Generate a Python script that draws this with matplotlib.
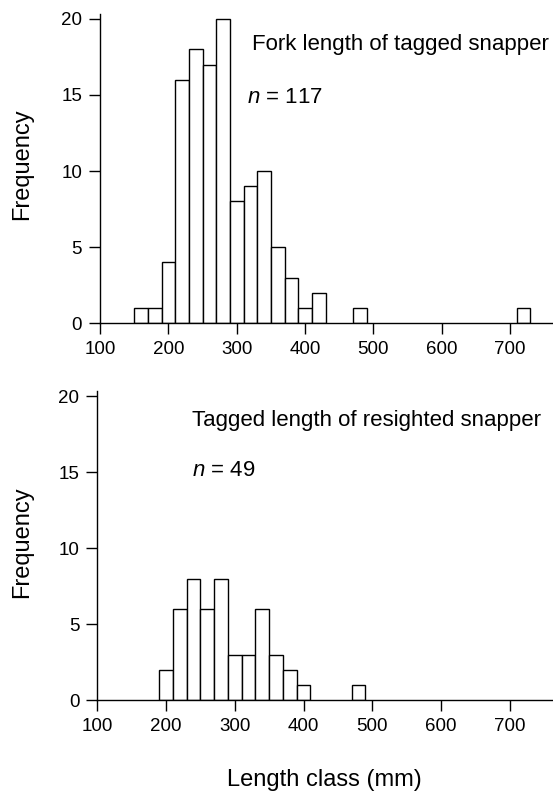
import matplotlib
matplotlib.use("Agg")
import matplotlib.pyplot as plt

plt.rcParams['font.family'] = ['Liberation Sans', 'DejaVu Sans']
plt.rcParams['mathtext.fontset'] = 'custom'
plt.rcParams['mathtext.it'] = 'Liberation Sans:italic'
plt.rcParams['mathtext.rm'] = 'Liberation Sans'

# === Дані (ліві межі класів по 20 мм, частоти) ===
bin_width = 20
tagged_bins = [150, 170, 190, 210, 230, 250, 270, 290, 310, 330, 350, 370, 390, 410, 470, 710]
tagged_counts = [1, 1, 4, 16, 18, 17, 20, 8, 9, 10, 5, 3, 1, 2, 1, 1]

resighted_bins = [190, 210, 230, 250, 270, 290, 310, 330, 350, 370, 390, 470]
resighted_counts = [2, 6, 8, 6, 8, 3, 3, 6, 3, 2, 1, 1]

x_ticks = [100, 200, 300, 400, 500, 600, 700]
y_ticks = [0, 5, 10, 15, 20]

titles = ["Fork length of tagged snapper", "Tagged length of resighted snapper"]
n_labels = [r"$n$ = 117", r"$n$ = 49"]

# === Фігура ===
fig = plt.figure(figsize=(5.53, 7.94), dpi=100)
ax_top = fig.add_axes([0.181, 0.593, 0.819, 0.389])
ax_bot = fig.add_axes([0.176, 0.118, 0.824, 0.389])

panels = [
    (ax_top, tagged_bins, tagged_counts, (322, 18.3), (315, 14.8)),
    (ax_bot, resighted_bins, resighted_counts, (238, 18.4), (238, 15.1)),
]

for (ax, bins, counts, title_xy, n_xy), title, n_lab in zip(panels, titles, n_labels):
    ax.bar(bins, counts, width=bin_width, align='edge',
           facecolor='white', edgecolor='black', linewidth=1.0)
    ax.set_xlim(100, 763)
    ax.set_ylim(0, 20.3)
    ax.set_xticks(x_ticks)
    ax.set_yticks(y_ticks)
    for side in ['top', 'right']:
        ax.spines[side].set_visible(False)
    ax.spines['left'].set_linewidth(1.0)
    ax.spines['bottom'].set_linewidth(1.0)
    ax.tick_params(direction='out', length=8, width=1.0, labelsize=13.5, pad=5)
    ax.text(title_xy[0], title_xy[1], title, fontsize=16, va='center', ha='left')
    ax.text(n_xy[0], n_xy[1], n_lab, fontsize=16, va='center', ha='left')

fig.text(22 / 553, 1 - 164 / 794, "Frequency", rotation=90, fontsize=17,
         ha='center', va='center')
fig.text(22 / 553, 1 - 542 / 794, "Frequency", rotation=90, fontsize=17,
         ha='center', va='center')
fig.text(324 / 553, 1 - 780 / 794, "Length class (mm)", fontsize=17,
         ha='center', va='center')

fig.savefig("out.png", dpi=100)
